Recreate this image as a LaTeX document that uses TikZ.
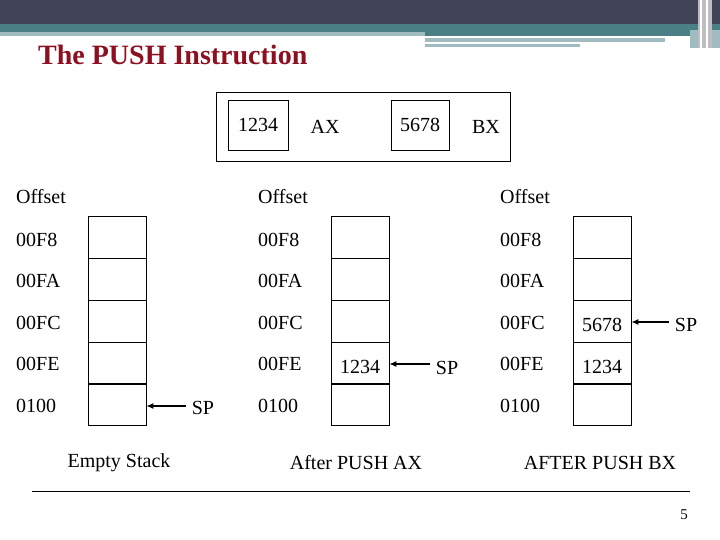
\documentclass[tikz,border=0pt]{standalone}
\usepackage{fontspec}
\usetikzlibrary{arrows.meta}
\setmainfont{Liberation Serif}
\begin{document}
\begin{tikzpicture}[x=1pt,y=-1pt,
  txt/.style={font=\fontsize{20}{22}\selectfont,inner sep=0pt},
  lab/.style={txt,anchor=west},
  cell/.style={draw,line width=0.8pt,minimum width=58pt,minimum height=42pt,inner sep=0pt,font=\fontsize{20}{22}\selectfont},
  arr/.style={-{Latex[length=7pt,width=6pt]},line width=1.2pt}]
\useasboundingbox (0,0) rectangle (720,540);
% banner
\fill[color={rgb,255:red,65;green,68;blue,86}] (0,0) rectangle (720,25);
\fill[color={rgb,255:red,74;green,127;blue,134}] (0,24) rectangle (720,36);
\fill[color={rgb,255:red,160;green,188;blue,192}] (0,32) rectangle (425,36);
\fill[color={rgb,255:red,160;green,188;blue,192}] (425,38) rectangle (665,42);
\fill[color={rgb,255:red,160;green,188;blue,192}] (425,44) rectangle (580,47);
\fill[color={rgb,255:red,160;green,188;blue,192}] (690,30) rectangle (720,48);
\fill[color={rgb,255:red,190;green,190;blue,195}] (698,0) rectangle (712,48);
\fill[white] (700,0) rectangle (702,48);
\fill[white] (706,0) rectangle (708,48);
\node[anchor=west,inner sep=0pt,font=\fontsize{28}{30}\selectfont\bfseries,text={rgb,255:red,140;green,16;blue,32}] (title) at (38,55) {The PUSH Instruction};
% registers
\node[draw,line width=0.8pt,minimum width=294pt,minimum height=69pt,inner sep=0pt] (regs) at (363,126.5) {};
\node[cell,minimum width=60pt,minimum height=50pt] (ax) at (258,125) {1234};
\node[txt] (axl) at (325,127) {AX};
\node[cell,minimum width=58pt,minimum height=50pt] (bx) at (420,125) {5678};
\node[txt] (bxl) at (486,127) {BX};
% columns
\foreach \c/\lx/\cx in {a/16/117, b/258/360, c/500/602}{
  \node[lab] (off\c) at (\lx,197) {Offset};
  \node[lab] (l1\c) at (\lx,240) {00F8};
  \node[lab] (l2\c) at (\lx,281) {00FA};
  \node[lab] (l3\c) at (\lx,323) {00FC};
  \node[lab] (l4\c) at (\lx,364) {00FE};
  \node[lab] (l5\c) at (\lx,406) {0100};
  \node[cell] (c1\c) at (\cx,237) {};
  \node[cell] (c2\c) at (\cx,279) {};
  \node[cell] (c3\c) at (\cx,321) {};
  \node[cell] (c4\c) at (\cx,363) {};
  \node[cell] (c5\c) at (\cx,404) {};
}
\node[txt] at (c4b.center) [yshift=-4pt] {1234};
\node[txt] at (c3c.center) [yshift=-4pt] {5678};
\node[txt] at (c4c.center) [yshift=-4pt] {1234};
% SP arrows
\node[txt] (spa) at (203,408) {SP};
\draw[arr] (spa.west) ++(-6,-2) coordinate (spas) (spas) -- (c5a.east |- spas);
\node[txt] (spb) at (447,368) {SP};
\draw[arr] (spb.west) ++(-6,-4) coordinate (spbs) (spbs) -- (c4b.east |- spbs);
\node[txt] (spc) at (686,325) {SP};
\draw[arr] (spc.west) ++(-6,-3) coordinate (spcs) (spcs) -- (c3c.east |- spcs);
% captions
\node[txt] (capa) at (119,463) {Empty Stack};
\node[txt] (capb) at (356,463) {After PUSH AX};
\node[txt] (capc) at (600,463) {AFTER PUSH BX};
\draw[line width=0.6pt] (32,491) -- (690,491);
\node[inner sep=0pt,font=\fontsize{15}{17}\selectfont] (pg) at (684,515) {5};
\end{tikzpicture}
\end{document}
